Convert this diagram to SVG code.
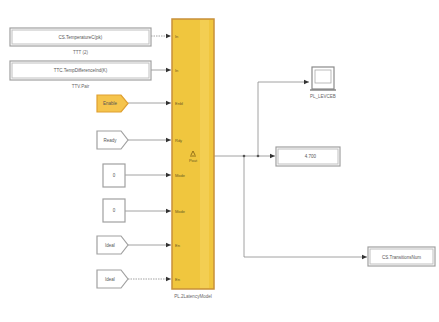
<svg xmlns="http://www.w3.org/2000/svg" width="439" height="322" viewBox="0 0 439 322">
<style>
.blk{fill:#ffffff;stroke:#a0a0a0;stroke-width:1.2}
.blk2{fill:#ffffff;stroke:#c0c0c0;stroke-width:1}
.t{font-family:"Liberation Sans",Arial,sans-serif;font-size:4.5px;fill:#555}
.tl{font-family:"Liberation Sans",Arial,sans-serif;font-size:4.5px;fill:#666}
.pt{font-family:"Liberation Sans",Arial,sans-serif;font-size:4px;fill:#6a5a20}
.ln{fill:none;stroke:#8a8a8a;stroke-width:0.8}
</style>
<defs>
<marker id="arr" markerWidth="6" markerHeight="6" refX="5" refY="3" orient="auto" markerUnits="userSpaceOnUse">
<path d="M0,0.8 L5,3 L0,5.2 Z" fill="#333"/>
</marker>
</defs>
<rect width="439" height="322" fill="#ffffff"/>

<g id="connectors">
<path class="ln" d="M151,36 H171" stroke-dasharray="1.5,1" marker-end="url(#arr)"/>
<path class="ln" d="M151,70 H171" marker-end="url(#arr)"/>
<path class="ln" d="M128,103 H171" marker-end="url(#arr)"/>
<path class="ln" d="M128,140 H171" marker-end="url(#arr)"/>
<path class="ln" d="M125,175 H171" marker-end="url(#arr)"/>
<path class="ln" d="M125,211 H171" marker-end="url(#arr)"/>
<path class="ln" d="M128,245 H171" marker-end="url(#arr)"/>
<path class="ln" d="M128,279 H171" stroke-dasharray="1.5,1" marker-end="url(#arr)"/>
<path class="ln" d="M214,156 H275" marker-end="url(#arr)"/>
<path class="ln" d="M258,156 V82 H309" marker-end="url(#arr)"/>
<path class="ln" d="M244,156 V257 H367" marker-end="url(#arr)"/>
<circle cx="244" cy="156" r="1.3" fill="#555"/>
<circle cx="258" cy="156" r="1.3" fill="#555"/>
</g>

<g id="in1">
<rect class="blk" x="10" y="28" width="141" height="18"/>
<rect class="blk2" x="12" y="30" width="137" height="14"/>
<text class="t" x="80.5" y="38.5" text-anchor="middle">CS.TemperatureC(pk)</text>
<text class="tl" x="80.5" y="54" text-anchor="middle">TTT (2)</text>
</g>

<g id="in2">
<rect class="blk" x="10" y="61" width="141" height="19"/>
<rect class="blk2" x="12" y="63" width="137" height="15"/>
<text class="t" x="80.5" y="72" text-anchor="middle">TTC.TempDifferenceInd(K)</text>
<text class="tl" x="80.5" y="88" text-anchor="middle">TTV.Pair</text>
</g>

<g id="from1">
<path d="M97,95 H121 L128,103.5 L121,112 H97 Z" fill="#f5c44c" stroke="#e0a030" stroke-width="1.2"/>
<text class="t" x="110" y="105" text-anchor="middle" fill="#7a5a10">Enable</text>
</g>

<g id="from2">
<path d="M97,131 H121 L128,140 L121,149 H97 Z" class="blk"/>
<text class="t" x="110" y="141.5" text-anchor="middle">Ready</text>
</g>

<g id="const1">
<rect class="blk" x="103" y="164" width="22" height="23"/>
<text class="t" x="114" y="177" text-anchor="middle">0</text>
</g>

<g id="const2">
<rect class="blk" x="103" y="199" width="22" height="23"/>
<text class="t" x="114" y="212" text-anchor="middle">0</text>
</g>

<g id="from3">
<path d="M97,236 H121 L128,245 L121,254 H97 Z" class="blk"/>
<text class="t" x="110" y="246.5" text-anchor="middle">Ideal</text>
</g>

<g id="from4">
<path d="M97,270 H121 L128,279 L121,288 H97 Z" class="blk"/>
<text class="t" x="110" y="280.5" text-anchor="middle">Ideal</text>
</g>

<g id="subsystem">
<rect x="172" y="19" width="42" height="270" fill="#f0c63e" stroke="#c8903a" stroke-width="1.5"/>
<rect x="200" y="20" width="9" height="268" fill="#f5d461" opacity="0.6"/>
<text class="pt" x="175" y="37.5">In</text>
<text class="pt" x="175" y="71.5">In</text>
<text class="pt" x="175" y="104.5">Enbl</text>
<text class="pt" x="175" y="141.5">Rdy</text>
<text class="pt" x="175" y="176.5">Mode</text>
<text class="pt" x="175" y="212.5">Mode</text>
<text class="pt" x="175" y="246.5">En</text>
<text class="pt" x="175" y="280.5">En</text>
<path d="M191,155 l2,-4 l2,4 M190,156 h6" fill="none" stroke="#7a5a10" stroke-width="0.8"/>
<text class="pt" x="193" y="162" text-anchor="middle" fill="#d07020">Pout</text>
<text class="tl" x="193" y="298" text-anchor="middle" fill="#b07090">PL.2LatencyModel</text>
</g>

<g id="scope">
<rect x="312" y="67" width="22" height="22" fill="#ffffff" stroke="#8a8a8a" stroke-width="1.2"/>
<rect x="315" y="70" width="16" height="13" fill="#ffffff" stroke="#aaaaaa" stroke-width="0.8"/>
<line x1="310" y1="90" x2="336" y2="90" stroke="#6a6a6a" stroke-width="1.2"/>
<text class="tl" x="323" y="98" text-anchor="middle">PL_LEVCEB</text>
</g>

<g id="display">
<rect class="blk" x="276" y="147" width="64" height="19"/>
<rect class="blk2" x="278" y="149" width="60" height="15"/>
<text class="t" x="316" y="158" text-anchor="end">4.700</text>
</g>

<g id="out1">
<rect class="blk" x="368" y="247" width="67" height="19"/>
<rect class="blk2" x="370" y="249" width="63" height="15"/>
<text class="t" x="401.5" y="258.5" text-anchor="middle">CS.TransitionsNum</text>
</g>
</svg>
